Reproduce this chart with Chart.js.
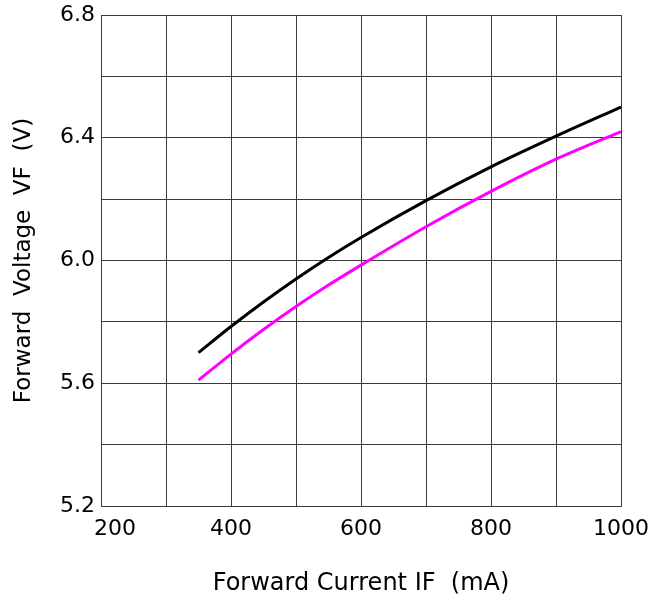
<!DOCTYPE html>
<html>
<head>
<meta charset="utf-8">
<script src="https://cdn.jsdelivr.net/npm/chart.js@4/dist/chart.umd.min.js"></script>
<style>
  html, body { margin: 0; padding: 0; background: #fff; }
  canvas { display: block; }
</style>
</head>
<body>
<canvas id="vf-chart" width="657" height="599"></canvas>
<script>
// forward current (mA) sample points
var currents = [350, 400, 450, 500, 550, 600, 700, 800, 900, 1000];
var vfUpper = [5.70, 5.785, 5.865, 5.94, 6.01, 6.075, 6.195, 6.305, 6.405, 6.50];
var vfLower = [5.61, 5.695, 5.775, 5.85, 5.92, 5.985, 6.11, 6.225, 6.33, 6.42];

var xLabels = [200, 400, 600, 800, 1000];
var yLabels = [5.2, 5.6, 6.0, 6.4, 6.8];

function toPoints(ys){
    return currents.map(function(x, i){ return {x: x, y: ys[i]}; });
}

// pin the plot box: tick label overhang should not move it
function noOverhang(scale){
    scale.paddingTop = 0;
    scale.paddingBottom = 0;
    scale.paddingLeft = 0;
    scale.paddingRight = 0;
}

var fontFamily = "'DejaVu Sans', sans-serif";
var gridColor = "#3a3a3a";

var ctx = document.getElementById("vf-chart");
new Chart(ctx, {
    type: "line",
    data: {
        datasets: [{
            data: toPoints(vfUpper),
            borderColor: "#000000",
            borderWidth: 3,
            pointRadius: 0,
            cubicInterpolationMode: "monotone"
        }, {
            data: toPoints(vfLower),
            borderColor: "#ff00ff",
            borderWidth: 3,
            pointRadius: 0,
            cubicInterpolationMode: "monotone"
        }]
    },
    options: {
        responsive: false,
        animation: false,
        layout: { padding: { left: 0, top: 15, right: 36, bottom: 0 } },
        plugins: {
            legend: { display: false },
            tooltip: { enabled: false }
        },
        scales: {
            x: {
                type: "linear",
                min: 200,
                max: 1000,
                afterFit: function(scale){ scale.height = 93; noOverhang(scale); },
                border: { color: gridColor, width: 1 },
                grid: { color: gridColor, lineWidth: 1, drawTicks: false },
                ticks: {
                    stepSize: 100,
                    autoSkip: false,
                    maxRotation: 0,
                    padding: 10,
                    color: "#000",
                    font: { family: fontFamily, size: 22 },
                    callback: function(v){
                        if (xLabels.indexOf(v) < 0) return "";
                        // first label sits clear of the y axis
                        return v === xLabels[0] ? "    " + v : String(v);
                    }
                },
                title: {
                    display: true,
                    text: "Forward Current IF  (mA)",
                    color: "#000",
                    font: { family: fontFamily, size: 24 },
                    padding: { top: 0, bottom: 1 }
                }
            },
            y: {
                min: 5.2,
                max: 6.8,
                afterFit: function(scale){ scale.width = 101; noOverhang(scale); },
                border: { color: gridColor, width: 1 },
                grid: { color: gridColor, lineWidth: 1, drawTicks: false },
                ticks: {
                    stepSize: 0.2,
                    autoSkip: false,
                    padding: 6,
                    color: "#000",
                    font: { family: fontFamily, size: 22 },
                    callback: function(v){
                        var hit = yLabels.some(function(l){ return Math.abs(l - v) < 1e-6; });
                        return hit ? v.toFixed(1) : "";
                    }
                },
                title: {
                    display: true,
                    text: "Forward  Voltage  VF  (V)",
                    color: "#000",
                    font: { family: fontFamily, size: 23 },
                    padding: { top: 10, bottom: 0 }
                }
            }
        }
    }
});
</script>
</body>
</html>
